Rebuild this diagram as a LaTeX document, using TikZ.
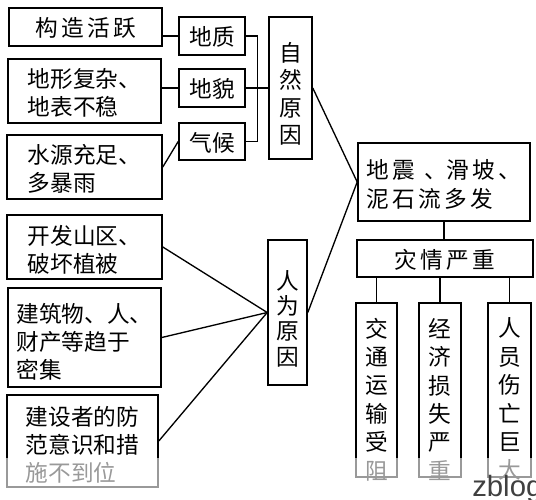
\documentclass[tikz,border=0pt]{standalone}
\usepackage{fontspec}
\newfontfamily\cjk{Noto Sans CJK SC}
\newfontfamily\wmfont{Liberation Sans}
\usetikzlibrary{fit}
\newcommand\chsp{\hspace{2.5pt}}
\begin{document}
\begin{tikzpicture}[x=0.75pt,y=-0.75pt,
  box/.style={draw, line width=1.2pt, inner sep=0pt},
  txt/.style={inner sep=0pt, align=left,
    font=\cjk\fontsize{17pt}{21pt}\selectfont},
  one/.style={txt, yshift=-0.75pt},
  two/.style={txt, yshift=-1.75pt},
  three/.style={txt, yshift=-3pt},
  four/.style={txt, align=center, yshift=-4.5pt},
  six/.style={txt, align=center, yshift=-7pt, font=\cjk\fontsize{17pt}{21.3pt}\selectfont},
  link/.style={line width=1pt}]
\useasboundingbox (0,0) rectangle (536,500);
% boxes
\node[box, fit={(9,8) (162,46)}] (g1) {};
\node[box, fit={(8,59) (161,123)}] (g2) {};
\node[box, fit={(7,135) (162,199)}] (g3) {};
\node[box, fit={(179,17) (245,55)}] (z1) {};
\node[box, fit={(179,69) (245,107)}] (z2) {};
\node[box, fit={(179,123) (245,160)}] (z3) {};
\node[box, fit={(269,17) (312,159)}] (zr) {};
\node[box, fit={(7,215) (162,279)}] (h1) {};
\node[box, fit={(8,288) (161,387)}] (h2) {};
\node[box, fit={(7,395) (158,487)}] (h3) {};
\node[box, fit={(268,240) (307,385)}] (hr) {};
\node[box, fit={(358,143) (530,221)}] (d) {};
\node[box, fit={(357,240) (533,277)}] (s) {};
\node[box, fit={(356,303) (397,477)}] (r1) {};
\node[box, fit={(419,303) (461,477)}] (r2) {};
\node[box, fit={(488,303) (531,477)}] (r3) {};
% texts
\node[one] (g1t) at (g1) {构\chsp 造\chsp 活\chsp 跃};
\node[two] (g2t) at (g2) {地形复杂、\\地表不稳};
\node[two] (g3t) at (g3) {水源充足、\\多暴雨};
\node[one] (z1t) at (z1) {地质};
\node[one] (z2t) at (z2) {地貌};
\node[one] (z3t) at (z3) {气候};
\node[four, font=\cjk\fontsize{17pt}{20.5pt}\selectfont] (zrt) at (zr) {自\\然\\原\\因};
\node[two] (h1t) at (h1) {开发山区、\\破坏植被};
\node[three] (h2t) at (h2) {建筑物、人、\\财产等趋于\\密集};
\node[three] (h3t) at (h3) {建设者的防\\范意识和措\\施不到位};
\node[four, font=\cjk\fontsize{17pt}{19pt}\selectfont] (hrt) at (hr) {人\\为\\原\\因};
\node[two, font=\cjk\fontsize{17pt}{21.5pt}\selectfont] (dt) at (d) {地\chsp 震\hspace{7pt}、滑\chsp 坡\chsp 、\\泥\chsp 石\chsp 流\chsp 多\chsp 发};
\node[one] (st) at (s) {灾\chsp 情\chsp 严\chsp 重};
\node[six] (r1t) at (r1) {交\\通\\运\\输\\受\\阻};
\node[six] (r2t) at (r2) {经\\济\\损\\失\\严\\重};
\node[six] (r3t) at (r3) {人\\员\\伤\\亡\\巨\\大};
% connectors
\draw[link] (z1.west -| g1.east) -- (z1.west);
\draw[link] (z2.west -| g2.east) -- (z2.west);
\draw[link] (g3.east) -- (z3.west);
\draw[link] (z1.east) -- ++(12,0) |- (z3.east);
\draw[link] (z2.east) -- (zr.west |- z2.east);
\draw[link] (zr.east) -- (d.west);
\draw[link] (hr.east) -- (d.west);
\draw[link] (h1.east) -- (hr.west);
\draw[link] (h2.east) -- (hr.west);
\draw[link] (h3.east) -- (hr.west);
\draw[link] (d.south) -- (d.south |- s.north);
\draw[link] (r1.north |- s.south) -- (r1.north);
\draw[link] (r2.north |- s.south) -- (r2.north);
\draw[link] (r3.north |- s.south) -- (r3.north);
% watermark band
\fill[white, opacity=0.6] (0,458) rectangle (536,500);
\node[anchor=base west, inner sep=0pt, text=black!75, font=\wmfont\fontsize{22pt}{24pt}\selectfont] (wm) at (472,496) {zblog};
\end{tikzpicture}
\end{document}
